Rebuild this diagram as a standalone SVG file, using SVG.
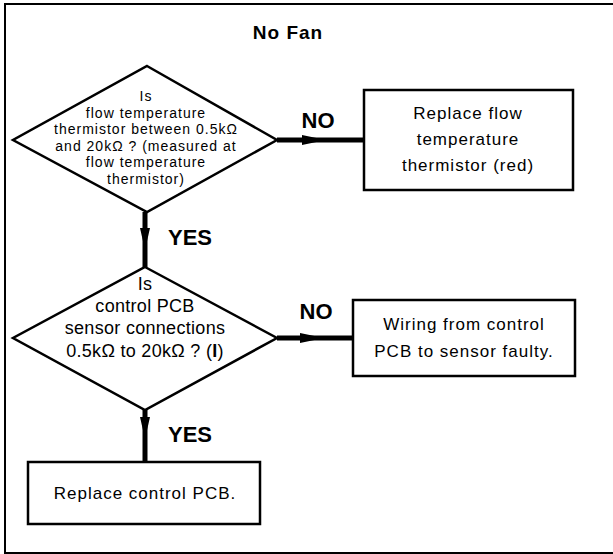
<svg xmlns="http://www.w3.org/2000/svg" width="613" height="554" viewBox="0 0 613 554">
<defs>
<style>
text{font-family:"Liberation Sans",Arial,sans-serif;fill:#000;text-anchor:middle}
.shape{fill:#fff;stroke:#000;stroke-width:2.5}
.t{font-size:17px;letter-spacing:1px}
.td{font-size:18px;letter-spacing:0.3px}
.ts{font-size:14px;letter-spacing:1px}
.lbl{font-size:22px;font-weight:bold}
.conn{stroke:#000;stroke-width:5;fill:none}
</style>
</defs>
<rect width="613" height="554" fill="#fff"/>
<path d="M613,4 H5 V553 H613" fill="none" stroke="#000" stroke-width="2"/>
<text x="288" y="39" style="font-size:19px;font-weight:bold;letter-spacing:1px">No Fan</text>
<g id="connectors">
<line class="conn" x1="277" y1="140" x2="364" y2="140"/>
<path d="M302,135 L326,140 L302,145 Z" fill="#000"/>
<line class="conn" x1="145" y1="212" x2="145" y2="267"/>
<path d="M140,228 L145,250 L150,228 Z" fill="#000"/>
<line class="conn" x1="277" y1="338" x2="353" y2="338"/>
<path d="M300,333 L324,338 L300,343 Z" fill="#000"/>
<line class="conn" x1="145" y1="410" x2="145" y2="462"/>
<path d="M140,417 L145,439 L150,417 Z" fill="#000"/>
<text x="318" y="128" class="lbl">NO</text>
<text x="190" y="245" class="lbl">YES</text>
<text x="316" y="319" class="lbl">NO</text>
<text x="190" y="442" class="lbl">YES</text>
</g>
<g id="d1">
<polygon class="shape" points="147,66 277,140 147,212 13,140"/>
<text class="ts" x="146" y="101">Is</text>
<text class="ts" x="146" y="117.5">flow temperature</text>
<text class="ts" x="146" y="134">thermistor between 0.5kΩ</text>
<text class="ts" x="146" y="150.5">and 20kΩ ? (measured at</text>
<text class="ts" x="146" y="167">flow temperature</text>
<text class="ts" x="146" y="183.5">thermistor)</text>
</g>
<g id="b1">
<rect class="shape" x="364" y="90" width="209" height="100"/>
<text class="t" x="468" y="119">Replace flow</text>
<text class="t" x="468" y="145">temperature</text>
<text class="t" x="468" y="171">thermistor (red)</text>
</g>
<g id="d2">
<polygon class="shape" points="145,267 277,338 145,410 13,338"/>
<text class="td" x="145" y="290">Is</text>
<text class="td" x="145" y="312">control PCB</text>
<text class="td" x="145" y="334">sensor connections</text>
<text class="td" x="145" y="357">0.5kΩ to 20kΩ ? (<tspan font-weight="bold">I</tspan>)</text>
</g>
<g id="b2">
<rect class="shape" x="353" y="300" width="222" height="76"/>
<text class="t" x="464" y="330">Wiring from control</text>
<text class="t" x="464" y="357">PCB to sensor faulty.</text>
</g>
<g id="b3">
<rect class="shape" x="28" y="462" width="232" height="62"/>
<text class="t" x="145" y="499">Replace control PCB.</text>
</g>
</svg>
